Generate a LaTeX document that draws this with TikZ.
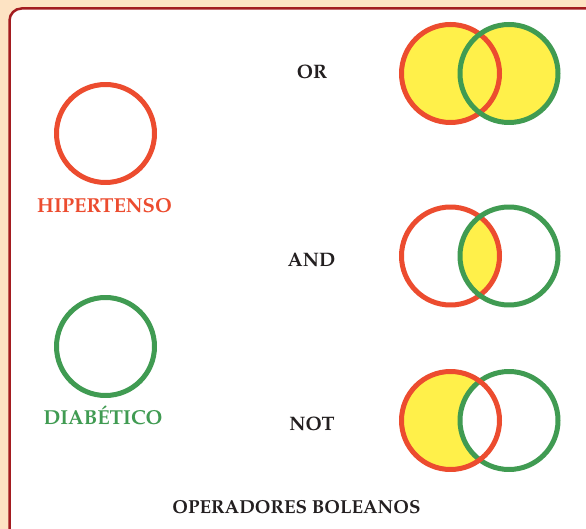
\documentclass[tikz,border=0pt]{standalone}
\usepackage[T1]{fontenc}
\usepackage{mathpazo}
\definecolor{peach}{RGB}{253,227,195}
\definecolor{framered}{RGB}{163,28,32}
\definecolor{hipred}{RGB}{236,76,47}
\definecolor{diagreen}{RGB}{64,155,82}
\definecolor{setyellow}{RGB}{255,240,74}
\definecolor{txtgray}{RGB}{35,31,32}
\begin{document}
\begin{tikzpicture}[x=1pt,y=-1pt, line join=round, line cap=round,
    hip/.style={draw=hipred,line width=5pt},
    dia/.style={draw=diagreen,line width=5pt},
    lbl/.style={anchor=base,font=\bfseries\fontsize{20.2}{24}\selectfont},
    op/.style={anchor=base,text=txtgray,font=\bfseries\fontsize{19.5}{23}\selectfont}]
            \fill[peach] (0,0) rectangle (586,529);
            \useasboundingbox (0,0) rectangle (586,529);
            \draw[framered,fill=white,line width=2.5pt,rounded corners=12pt] (9.5,8.5) rectangle (600,545);
            % conjuntos
            \coordinate (hipC) at (105.5,133.5);
            \coordinate (diaC) at (105.5,346.5);
            \draw[hip] (hipC) circle (49);
            \draw[dia] (diaC) circle (49);
            \node[lbl,text=hipred] (hipL) at (104.5,213) {HIPERTENSO};
            \node[lbl,text=diagreen] (diaL) at (103,424.5) {DIAB\'ETICO};
            % OR
            \coordinate (orR) at (450.5,73.5);
            \coordinate (orG) at (509,73.5);
            \fill[setyellow] (orR) circle (49) (orG) circle (49);
            \draw[hip] (orR) circle (49);
            \draw[dia] (orG) circle (49);
            \node[op] (orL) at (312,79) {OR};
            % AND
            \coordinate (andR) at (450.5,256);
            \coordinate (andG) at (509,256);
            \begin{scope}
                \clip (andR) circle (49);
                \fill[setyellow] (andG) circle (49);
            \end{scope}
            \draw[hip] (andR) circle (49);
            \draw[dia] (andG) circle (49);
            \node[op] (andL) at (311.5,266.5) {AND};
            % NOT
            \coordinate (notR) at (450.5,420.5);
            \coordinate (notG) at (509,420.5);
            \fill[setyellow] (notR) circle (49);
            \fill[white] (notG) circle (49);
            \draw[dia] (notG) circle (49);
            \draw[hip] (notR) circle (49);
            \node[op] (notL) at (312,430) {NOT};
            \node[op,font=\bfseries\fontsize{18.8}{22}\selectfont] (title) at (296.5,513) {OPERADORES BOLEANOS};
        \end{tikzpicture}
\end{document}
